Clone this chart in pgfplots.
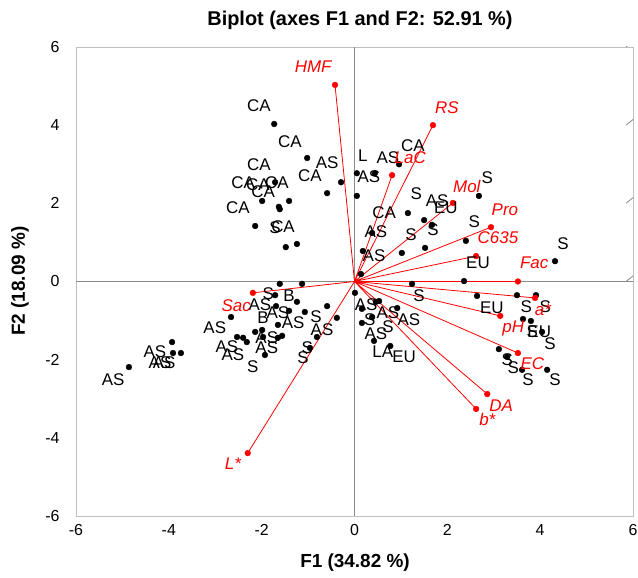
\documentclass[border=0pt]{standalone}
\usepackage{fontspec}
\setmainfont{Liberation Sans}
\usepackage{pgfplots}
\pgfplotsset{compat=1.18}
\definecolor{cRed}{HTML}{FF0000}
\definecolor{cBox}{HTML}{C0C0C0}
\definecolor{cAxis}{HTML}{8A8A8A}

% observations (F1, F2)
\pgfplotstableread{
x y
-1.73 4.03
-1.02 3.16
-0.29 2.54
-0.59 2.26
-1.71 2.54
-1.99 2.06
-1.41 2.06
-1.63 1.91
-1.61 1.85
-2.14 1.42
-1.48 0.88
-1.24 0.96
0.05 2.77
0.44 2.77
0.96 3.00
0.05 2.19
1.15 1.75
1.50 1.57
1.67 1.45
2.68 2.19
2.40 1.04
1.52 0.86
1.02 0.73
0.38 1.24
0.18 0.78
0.14 0.19
4.32 0.52
2.36 0.01
1.24 -0.06
0.01 -0.29
2.64 -0.37
3.50 -0.35
3.91 -0.35
3.63 -0.96
3.80 -1.01
4.04 -1.29
3.11 -1.73
3.29 -1.93
3.61 -2.26
4.15 -2.26
0.46 -0.52
0.53 -0.50
0.16 -0.70
0.92 -0.68
0.38 -0.91
0.16 -1.06
0.42 -1.52
0.77 -1.65
-1.61 -0.06
-1.13 -0.06
-1.71 -0.35
-1.24 -0.52
-1.69 -0.63
-0.59 -0.63
-1.41 -0.75
-1.07 -0.78
-2.66 -0.91
-0.38 -0.93
-1.65 -1.11
-1.99 -1.24
-2.14 -1.29
-2.53 -1.42
-2.40 -1.44
-2.32 -1.55
-1.97 -1.42
-1.65 -1.44
-1.56 -1.39
-1.93 -1.88
-0.81 -1.42
-0.96 -1.70
-3.93 -1.55
-3.91 -1.83
-3.74 -1.83
-4.86 -2.19
}\obs

% observation labels (placed where they sit in the chart)
\pgfplotstableread{
x y lab
-2.06 4.49 CA
-1.39 3.59 CA
-0.59 3.03 AS
-0.96 2.70 CA
-2.06 2.98 CA
-2.40 2.52 CA
-2.08 2.47 CA
-1.67 2.52 CA
-1.97 2.29 CA
-2.51 1.88 CA
-1.71 1.37 S
-1.54 1.39 CA
1.26 3.47 CA
0.18 3.21 L
0.72 3.18 AS
0.31 2.67 AS
2.86 2.65 S
1.33 2.24 S
1.78 2.06 AS
1.97 1.88 EU
0.64 1.75 CA
0.46 1.27 AS
1.22 1.19 S
1.69 1.32 S
2.58 1.52 S
0.42 0.65 AS
2.66 0.47 EU
4.49 0.98 S
1.39 -0.37 S
0.25 -0.60 AS
0.72 -0.81 AS
1.17 -0.98 AS
0.33 -0.98 S
0.72 -1.16 S
0.46 -1.34 AS
0.61 -1.80 LA
1.07 -1.93 EU
2.96 -0.68 EU
3.70 -0.65 S
4.11 -0.65 S
3.83 -1.29 S
3.98 -1.29 EU
4.21 -1.60 S
3.29 -2.01 S
3.42 -2.21 S
3.74 -2.52 S
4.32 -2.52 S
-1.86 -0.32 S
-1.41 -0.37 B
-2.04 -0.60 AS
-1.97 -0.93 B
-1.65 -0.81 AS
-1.32 -1.06 AS
-0.83 -0.91 S
-0.70 -1.24 AS
-3.01 -1.19 AS
-1.89 -1.44 AS
-2.75 -1.68 AS
-2.62 -1.88 AS
-1.89 -1.70 AS
-2.19 -2.19 S
-1.11 -1.96 S
-1.02 -1.70 S
-4.30 -1.80 AS
-4.19 -2.08 AS
-4.10 -2.08 AS
-5.20 -2.52 AS
}\obslab

% variables (arrow tips)
\pgfplotstableread{
x y
-0.42 5.03
1.69 4.00
0.81 2.72
2.12 2.01
2.94 1.39
2.62 0.65
3.52 0.00
3.89 -0.42
3.14 -0.88
3.52 -1.83
2.86 -2.88
2.62 -3.26
-2.30 -4.39
-2.19 -0.29
}\vars

\pgfplotstableread{
x y lab
-0.89 5.49 HMF
1.99 4.46 RS
1.20 3.16 LaC
2.42 2.44 Mol
3.24 1.83 Pro
3.09 1.11 C635
3.87 0.47 Fac
4.06 -0.73 a*
3.42 -1.19 pH
3.83 -2.11 EC
3.16 -3.18 DA
2.86 -3.54 b*
-2.62 -4.67 L*
-2.55 -0.63 Sac
}\varlab

\begin{document}
\begin{tikzpicture}
\path[use as bounding box] (-76bp,-62bp) rectangle (562bp,516bp);
\begin{axis}[
  at={(0,0)}, anchor=south west,
  scale only axis,
  width=557bp, height=469bp,
  xmin=-6, xmax=6, ymin=-6, ymax=6,
  xtick={-6,-4,-2,0,2,4,6},
  xticklabels={-6,-4,-2,0,2,4,6},
  ytick={-6,-4,-2,0,2,4,6},
  yticklabels={-6,-4,-2,0,2,4,6},
  tick pos=left,
  major tick length=0pt,
  tick style={draw=none},
  axis line style={cBox, line width=0.8pt},
  tick label style={font=\fontsize{16}{19}\selectfont},
  xticklabel style={yshift=-5bp},
  yticklabel style={xshift=-13bp},
]
% axes through the origin
\draw[cAxis, line width=0.8pt] (axis cs:-6,0) -- (axis cs:6,0);
\draw[cAxis, line width=0.8pt] (axis cs:0,-6) -- (axis cs:0,6);
\pgfplotsinvokeforeach{-6,-4,-2,0,2,4,6}{
  \draw[cAxis, line width=0.8pt] (axis cs:0,#1) ++(-7bp,0) -- ++(14bp,0);
}

% variable vectors
\addplot[cRed, line width=0.8pt, unbounded coords=jump] coordinates {
  (0,0)(-0.42,5.03)(nan,nan)
  (0,0)(1.69,4.00)(nan,nan)
  (0,0)(0.81,2.72)(nan,nan)
  (0,0)(2.12,2.01)(nan,nan)
  (0,0)(2.94,1.39)(nan,nan)
  (0,0)(2.62,0.65)(nan,nan)
  (0,0)(3.52,0.00)(nan,nan)
  (0,0)(3.89,-0.42)(nan,nan)
  (0,0)(3.14,-0.88)(nan,nan)
  (0,0)(3.52,-1.83)(nan,nan)
  (0,0)(2.86,-2.88)(nan,nan)
  (0,0)(2.62,-3.26)(nan,nan)
  (0,0)(-2.30,-4.39)(nan,nan)
  (0,0)(-2.19,-0.29)
};

% observations
\addplot[only marks, mark=*, mark size=2.9bp, black] table {\obs};
\addplot[only marks, mark=*, mark size=2.9bp, cRed, mark options={fill=cRed}] table {\vars};

% labels
\addplot[draw=none, mark=none, nodes near coords, point meta=explicit symbolic,
  every node near coord/.style={anchor=center, inner sep=0pt,
    font=\fontsize{17}{20}\selectfont, text=black}]
  table[meta=lab] {\obslab};
\addplot[draw=none, mark=none, nodes near coords, point meta=explicit symbolic,
  every node near coord/.style={anchor=center, inner sep=0pt,
    font=\fontsize{17}{20}\selectfont\itshape, text=cRed}]
  table[meta=lab] {\varlab};
\end{axis}

\node[font=\fontsize{20}{24}\selectfont\bfseries] at (284bp,496bp) {Biplot (axes F1 and F2: 52.91 \%)};
\node[font=\fontsize{19}{23}\selectfont\bfseries] at (279bp,-47bp) {F1 (34.82 \%)};
\node[font=\fontsize{19}{23}\selectfont\bfseries, rotate=90] at (-56bp,235bp) {F2 (18.09 \%)};
\end{tikzpicture}
\end{document}
